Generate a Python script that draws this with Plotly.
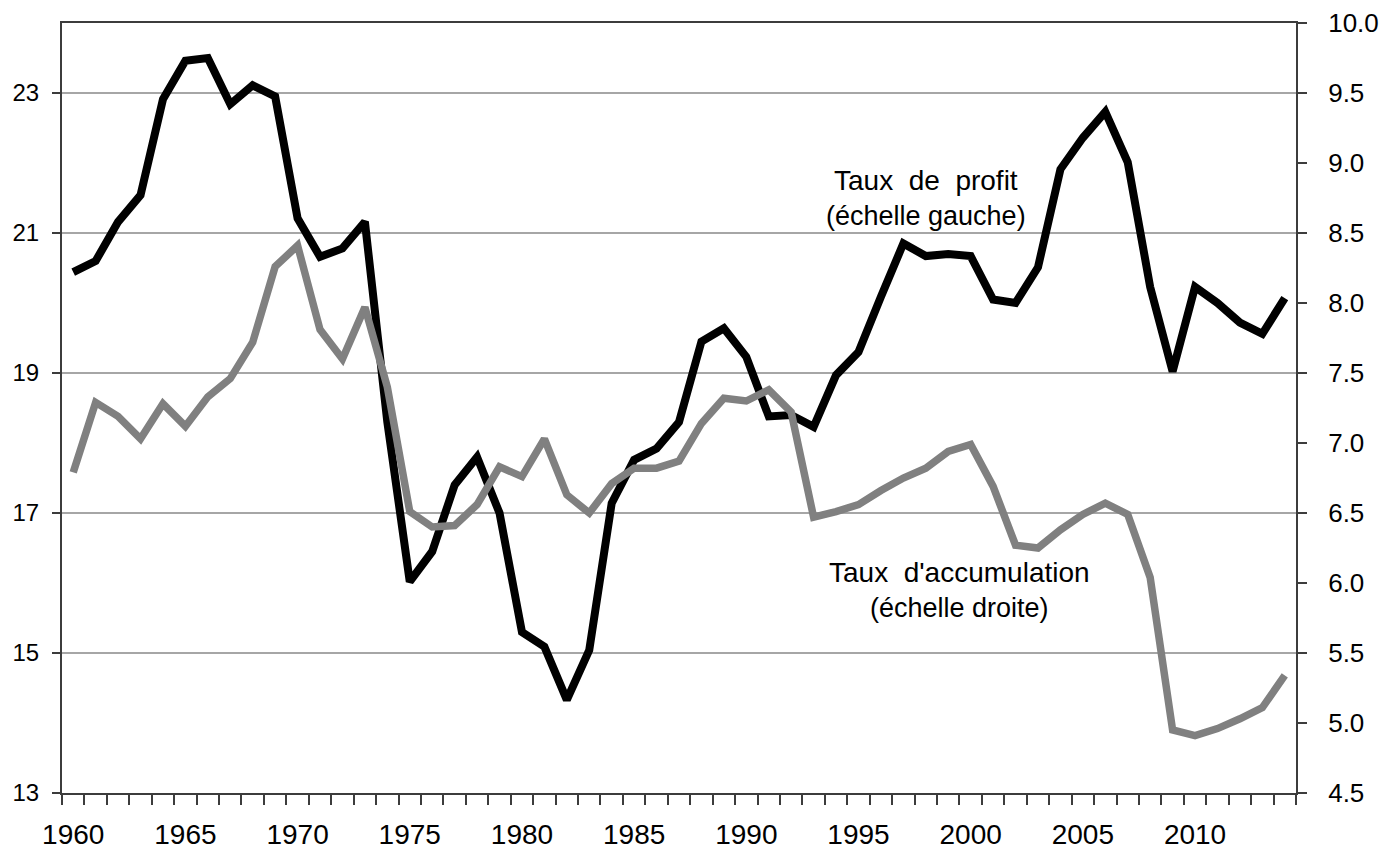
import plotly.graph_objects as go

years = list(range(1960, 2015))

taux_profit = [
    20.44, 20.60, 21.16, 21.54, 22.91, 23.46, 23.50, 22.84, 23.11, 22.95,
    21.21, 20.66, 20.78, 21.16, 18.30, 16.02, 16.45, 17.40, 17.80, 17.00,
    15.30, 15.09, 14.33, 15.04, 17.14, 17.76, 17.92, 18.30, 19.45, 19.64,
    19.23, 18.38, 18.40, 18.23, 18.97, 19.30, 20.09, 20.85, 20.67, 20.70,
    20.67, 20.05, 20.00, 20.51, 21.91, 22.36, 22.73, 22.01, 20.23, 19.02,
    20.23, 20.00, 19.72, 19.56, 20.07,
]

taux_accumulation = [
    6.79, 7.29, 7.19, 7.03, 7.28, 7.12, 7.33, 7.46, 7.72, 8.26,
    8.41, 7.81, 7.60, 7.97, 7.40, 6.51, 6.40, 6.41, 6.56, 6.83,
    6.76, 7.03, 6.63, 6.50, 6.71, 6.82, 6.82, 6.87, 7.14, 7.32,
    7.30, 7.38, 7.22, 6.47, 6.51, 6.56, 6.66, 6.75, 6.82, 6.94,
    6.99, 6.69, 6.27, 6.25, 6.38, 6.49, 6.57, 6.49, 6.04, 4.95,
    4.91, 4.96, 5.03, 5.11, 5.34,
]

x_tick_years = [1960, 1965, 1970, 1975, 1980, 1985, 1990, 1995, 2000, 2005, 2010]
left_ticks = [13, 15, 17, 19, 21, 23]
right_ticks = [4.5, 5.0, 5.5, 6.0, 6.5, 7.0, 7.5, 8.0, 8.5, 9.0, 9.5, 10.0]

FONT = "Liberation Sans, Arial, sans-serif"
AXIS_COLOR = "#3c3c3c"

fig = go.Figure()

fig.add_trace(go.Scatter(
    x=years, y=taux_accumulation, mode="lines", yaxis="y2",
    line=dict(color="#808080", width=7.5), showlegend=False,
))
fig.add_trace(go.Scatter(
    x=years, y=taux_profit, mode="lines", yaxis="y",
    line=dict(color="#000000", width=8), showlegend=False,
))

fig.add_annotation(
    x=1998.0, y=21.5, xref="x", yref="y",
    text="<span style='font-size:28px'>Taux&nbsp; de&nbsp; profit</span><br>(échelle gauche)",
    showarrow=False, align="center", xanchor="center", yanchor="middle",
    font=dict(family=FONT, size=27, color="#000000"),
)
fig.add_annotation(
    x=1999.5, y=5.95, xref="x", yref="y2",
    text="<span style='font-size:28px'>Taux&nbsp; d'accumulation</span><br>(échelle droite)",
    showarrow=False, align="center", xanchor="center", yanchor="middle",
    font=dict(family=FONT, size=27, color="#000000"),
)

fig.update_layout(
    width=1380, height=844,
    margin=dict(l=54, r=92, t=15, b=59, autoexpand=False),
    paper_bgcolor="white", plot_bgcolor="white",
    font=dict(family=FONT, color="#000000"),
    xaxis=dict(
        range=[1959.5, 2014.5], automargin=False,
        tickvals=x_tick_years, ticktext=[str(v) for v in x_tick_years],
        ticks="", ticklabelstandoff=15,
        tickfont=dict(size=28),
        showgrid=False, zeroline=False,
        showline=True, linecolor=AXIS_COLOR, linewidth=2, mirror=True,
        minor=dict(ticks="outside", ticklen=10, tick0=1959.5, dtick=1,
                   tickcolor=AXIS_COLOR, tickwidth=1.5, showgrid=False),
    ),
    yaxis=dict(
        range=[13, 24], tickvals=left_ticks, automargin=False,
        ticks="outside", ticklen=8, tickcolor=AXIS_COLOR, tickwidth=1.5,
        ticklabelstandoff=8,
        tickfont=dict(size=24),
        showgrid=True, gridcolor="#a6a6a6", gridwidth=1.5,
        zeroline=False,
        showline=True, linecolor=AXIS_COLOR, linewidth=2,
    ),
    yaxis2=dict(
        range=[4.5, 10.0], tickvals=right_ticks, automargin=False,
        ticktext=[f"{v:.1f}" for v in right_ticks],
        overlaying="y", side="right", anchor="x",
        ticks="outside", ticklen=9, tickcolor=AXIS_COLOR, tickwidth=1.5,
        ticklabelstandoff=16,
        tickfont=dict(size=26),
        showgrid=False, zeroline=False,
        showline=True, linecolor=AXIS_COLOR, linewidth=2,
    ),
    yaxis3=dict(
        range=[4.5, 10.0], tickvals=right_ticks, automargin=False,
        overlaying="y", side="right", anchor="x",
        ticks="inside", ticklen=8, tickcolor=AXIS_COLOR, tickwidth=1.5,
        showticklabels=False, showgrid=False, zeroline=False, showline=False,
    ),
)

fig.write_html("out.html")
